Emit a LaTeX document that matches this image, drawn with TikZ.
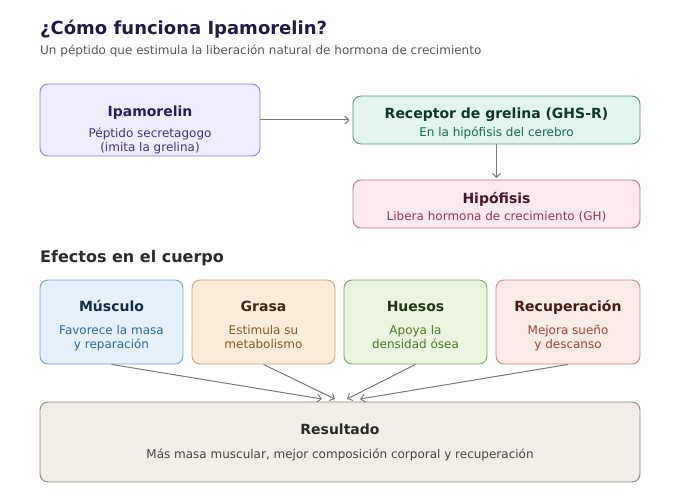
\documentclass[tikz,border=0pt]{standalone}
\usepackage{fontspec}
\setmainfont{DejaVu Sans}
\usetikzlibrary{arrows.meta}
\definecolor{arrgray}{HTML}{7A7A72}
\definecolor{ttl}{HTML}{1E1B4B}
\definecolor{subg}{HTML}{555555}
\definecolor{ipaF}{HTML}{EFEDFD}\definecolor{ipaD}{HTML}{8B80D8}\definecolor{ipaT}{HTML}{26215C}\definecolor{ipaS}{HTML}{3C3489}
\definecolor{recF}{HTML}{E3F4EE}\definecolor{recD}{HTML}{4A9A7A}\definecolor{recT}{HTML}{0B3A2A}\definecolor{recS}{HTML}{0F6E50}
\definecolor{hipF}{HTML}{FBE9EF}\definecolor{hipD}{HTML}{C0708A}\definecolor{hipT}{HTML}{4B1528}\definecolor{hipS}{HTML}{993556}
\definecolor{musF}{HTML}{E6F0FB}\definecolor{musD}{HTML}{6FA3D8}\definecolor{musT}{HTML}{0F2A4A}\definecolor{musS}{HTML}{2A6AAB}
\definecolor{graF}{HTML}{FAECD9}\definecolor{graD}{HTML}{C9A070}\definecolor{graT}{HTML}{3D2810}\definecolor{graS}{HTML}{8A5A20}
\definecolor{hueF}{HTML}{EBF4DF}\definecolor{hueD}{HTML}{7AA860}\definecolor{hueT}{HTML}{1F3A10}\definecolor{hueS}{HTML}{4A7A20}
\definecolor{recuF}{HTML}{FBEBE6}\definecolor{recuD}{HTML}{D08A78}\definecolor{recuT}{HTML}{4A1A10}\definecolor{recuS}{HTML}{A04530}
\definecolor{resF}{HTML}{F1EEE8}\definecolor{resD}{HTML}{8A887E}\definecolor{resT}{HTML}{2A2A2A}\definecolor{resS}{HTML}{444444}
\begin{document}
\begin{tikzpicture}[x=1pt,y=-1pt,
  box/.style={rectangle, rounded corners=8pt, line width=0.9pt, inner sep=0pt},
  btitle/.style={anchor=base, inner sep=0pt, font=\fontsize{14}{17}\selectfont\bfseries},
  bsub/.style={anchor=base, inner sep=0pt, font=\fontsize{12}{15}\selectfont},
  arr/.style={draw=arrgray, line width=1pt, -{Straight Barb[length=4pt,width=8pt]}}]
\useasboundingbox (0,0) rectangle (680,500);
\node[anchor=base west, inner sep=0pt, text=ttl, font=\fontsize{18}{22}\selectfont\bfseries] (title) at (40,35) {¿Cómo funciona Ipamorelin?};
\node[anchor=base west, inner sep=0pt, text=subg, font=\fontsize{12}{15}\selectfont] (subtitle) at (40,55) {Un péptido que estimula la liberación natural de hormona de crecimiento};
% top flow
\node[box, fill=ipaF, draw=ipaD, minimum width=220pt, minimum height=72pt] (ipa) at (150,120) {};
\node[btitle, text=ipaT] (ipat) at (150,117) {Ipamorelin};
\node[bsub, text=ipaS] (ipas1) at (150,138) {Péptido secretagogo};
\node[bsub, text=ipaS] (ipas2) at (150,152) {(imita la grelina)};
\node[box, fill=recF, draw=recD, minimum width=287pt, minimum height=48pt] (rec) at (496.5,120) {};
\node[btitle, text=recT] (rect) at (496.5,119) {Receptor de grelina (GHS-R)};
\node[bsub, text=recS] (recs) at (496.5,136) {En la hipófisis del cerebro};
\node[box, fill=hipF, draw=hipD, minimum width=287pt, minimum height=48pt] (hip) at (496.5,204) {};
\node[btitle, text=hipT] (hipt) at (496.5,203) {Hipófisis};
\node[bsub, text=hipS] (hips) at (496.5,220) {Libera hormona de crecimiento (GH)};
\draw[arr, shorten >=3pt] (ipa.east) -- (rec.west);
\draw[arr, shorten >=1.5pt] (rec.south) -- (hip.north);
% effects
\node[anchor=base west, inner sep=0pt, text=resT, font=\fontsize{16}{19}\selectfont\bfseries] (efe) at (40,262) {Efectos en el cuerpo};
\node[box, fill=musF, draw=musD, minimum width=143pt, minimum height=84pt] (mus) at (111.5,322) {};
\node[btitle, text=musT] (must) at (111.5,311) {Músculo};
\node[bsub, text=musS] (muss1) at (111.5,334) {Favorece la masa};
\node[bsub, text=musS] (muss2) at (111.5,348) {y reparación};
\node[box, fill=graF, draw=graD, minimum width=143pt, minimum height=84pt] (gra) at (263.5,322) {};
\node[btitle, text=graT] (grat) at (263.5,311) {Grasa};
\node[bsub, text=graS] (gras1) at (263.5,334) {Estimula su};
\node[bsub, text=graS] (gras2) at (263.5,348) {metabolismo};
\node[box, fill=hueF, draw=hueD, minimum width=143pt, minimum height=84pt] (hue) at (415.5,322) {};
\node[btitle, text=hueT] (huet) at (415.5,311) {Huesos};
\node[bsub, text=hueS] (hues1) at (415.5,334) {Apoya la};
\node[bsub, text=hueS] (hues2) at (415.5,348) {densidad ósea};
\node[box, fill=recuF, draw=recuD, minimum width=144pt, minimum height=84pt] (recu) at (568,322) {};
\node[btitle, text=recuT] (recut) at (568,311) {Recuperación};
\node[bsub, text=recuS] (recus1) at (568,334) {Mejora sueño};
\node[bsub, text=recuS] (recus2) at (568,348) {y descanso};
% result
\node[box, fill=resF, draw=resD, minimum width=600pt, minimum height=80pt] (res) at (340,442) {};
\node[btitle, text=resT] (rest) at (340,434) {Resultado};
\node[bsub, text=resS] (ress) at (340,458) {Más masa muscular, mejor composición corporal y recuperación};
\coordinate (e1) at (322,399);
\coordinate (e2) at (335,399);
\coordinate (e3) at (347,399);
\coordinate (e4) at (360,399);
\draw[arr] (mus.south) -- (e1);
\draw[arr] (gra.south) -- (e2);
\draw[arr] (hue.south) -- (e3);
\draw[arr] (recu.south) -- (e4);
\end{tikzpicture}
\end{document}
